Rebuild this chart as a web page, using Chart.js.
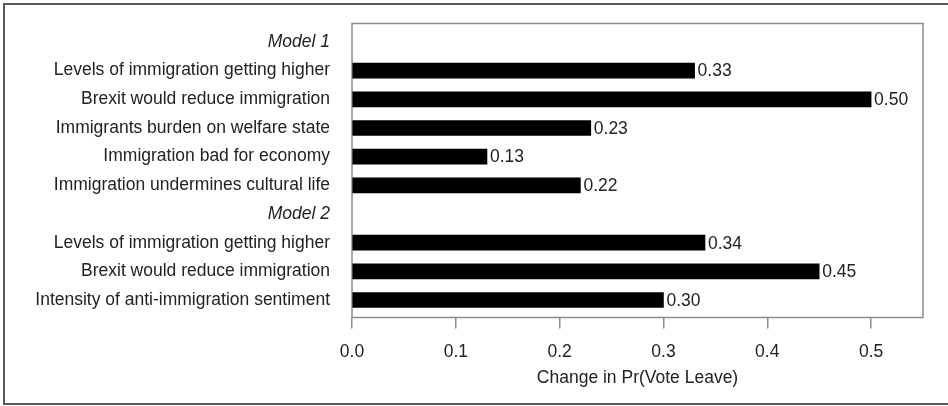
<!DOCTYPE html>
<html>
<head>
<meta charset="utf-8">
<script src="https://cdn.jsdelivr.net/npm/chart.js@4"></script>
<style>
  html, body { margin: 0; padding: 0; background: #fff; }
  #wrap { width: 948px; height: 406px; }
</style>
</head>
<body>
<div id="wrap"><canvas id="chart" width="948" height="406"></canvas></div>
<script>
const categories = [
    'Model 1',
    'Levels of immigration getting higher',
    'Brexit would reduce immigration',
    'Immigrants burden on welfare state',
    'Immigration bad for economy',
    'Immigration undermines cultural life',
    'Model 2',
    'Levels of immigration getting higher',
    'Brexit would reduce immigration',
    'Intensity of anti-immigration sentiment'
];
// null = group heading row, no bar
const values = [null, 0.33, 0.50, 0.23, 0.13, 0.22, null, 0.34, 0.45, 0.30];
const xTicks = [0.0, 0.1, 0.2, 0.3, 0.4, 0.5];
const xTitle = 'Change in Pr(Vote Leave)';

const FONT = 'Liberation Sans, Arial, sans-serif';
const FS = 17.5;

// frame around the whole figure (left, top, bottom edges)
const framePlugin = {
    id: 'frame',
    beforeDraw(chart) {
        const ctx = chart.ctx;
        ctx.save();
        ctx.strokeStyle = '#5a5a5a';
        ctx.lineWidth = 2;
        ctx.beginPath();
        ctx.moveTo(4, 405);
        ctx.lineTo(4, 4);
        ctx.lineTo(948, 4);
        ctx.moveTo(4, 404);
        ctx.lineTo(948, 404);
        ctx.stroke();
        ctx.restore();
    }
};

// plot box around the chart area
const boxPlugin = {
    id: 'box',
    beforeDatasetsDraw(chart) {
        const { ctx, chartArea: a } = chart;
        ctx.save();
        ctx.strokeStyle = '#8c8c8c';
        ctx.lineWidth = 1.5;
        ctx.strokeRect(a.left, a.top, a.right - a.left, a.bottom - a.top);
        ctx.restore();
    }
};

// value labels at bar ends
const valueLabels = {
    id: 'valueLabels',
    afterDatasetsDraw(chart) {
        const ctx = chart.ctx;
        const meta = chart.getDatasetMeta(0);
        ctx.save();
        ctx.font = FS + 'px ' + FONT;
        ctx.fillStyle = '#222';
        ctx.textAlign = 'left';
        ctx.textBaseline = 'middle';
        meta.data.forEach((bar, i) => {
            const v = values[i];
            if (v == null) return;
            ctx.fillText(v.toFixed(2), bar.x + 3, bar.y + 1);
        });
        ctx.restore();
    }
};

new Chart(document.getElementById('chart').getContext('2d'), {
    type: 'bar',
    data: {
        datasets: [{
            data: values.map((v, i) => ({ x: v, y: i })),
            backgroundColor: '#000',
            borderWidth: 0,
            barThickness: 15
        }]
    },
    options: {
        indexAxis: 'y',
        responsive: false,
        animation: false,
        layout: { padding: { top: 23.5, right: 25, left: 0, bottom: 0 } },
        plugins: {
            legend: { display: false },
            tooltip: { enabled: false }
        },
        scales: {
            y: {
                type: 'linear',
                offset: false,
                reverse: true,
                min: -0.645,
                max: 9.61,
                afterBuildTicks: (s) => { s.ticks = categories.map((_, i) => ({ value: i })); },
                afterFit: (s) => {
                    s.width = 352;
                    s.paddingTop = 0;
                    s.paddingBottom = 0;
                },
                grid: { display: false, drawTicks: false, offset: false },
                border: { display: false },
                ticks: {
                    padding: 22,
                    color: '#222',
                    callback: (v) => categories[v],
                    font: (c) => ({
                        family: FONT,
                        size: FS,
                        style: values[c.index] == null ? 'italic' : 'normal'
                    })
                }
            },
            x: {
                type: 'linear',
                min: 0,
                max: 0.55,
                afterBuildTicks: (s) => { s.ticks = xTicks.map(v => ({ value: v })); },
                afterFit: (s) => { s.height = 88.5; },
                grid: {
                    display: true,
                    drawOnChartArea: false,
                    drawTicks: true,
                    tickLength: 11,
                    color: '#8c8c8c',
                    lineWidth: 1.5
                },
                border: { display: false },
                ticks: {
                    padding: 13,
                    color: '#222',
                    font: { family: FONT, size: FS },
                    callback: (v) => v.toFixed(1)
                },
                title: {
                    display: true,
                    text: xTitle,
                    color: '#222',
                    font: { family: FONT, size: FS },
                    padding: { top: 0, bottom: 17.5 }
                }
            }
        }
    },
    plugins: [framePlugin, boxPlugin, valueLabels]
});
</script>
</body>
</html>
